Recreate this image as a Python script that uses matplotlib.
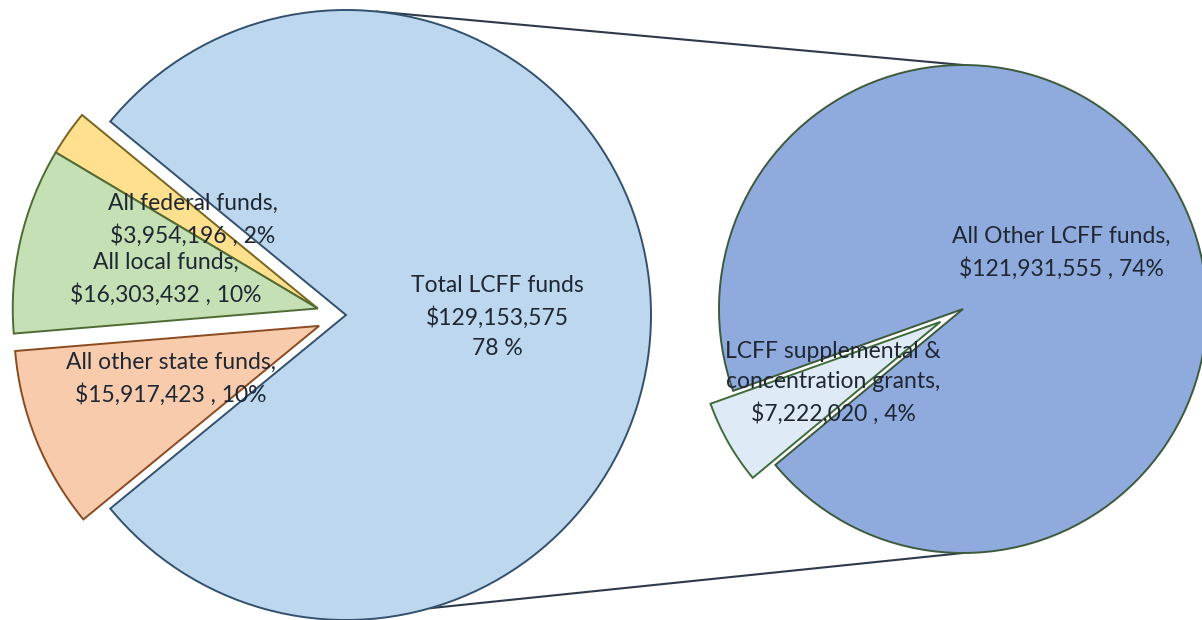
import matplotlib
matplotlib.use("Agg")
import matplotlib.pyplot as plt
import numpy as np

# Funding sources for the district (dollars)
main_labels = ["Total LCFF funds", "All federal funds", "All local funds", "All other state funds"]
main_values = [129153575, 3954196, 16303432, 15917423]
main_pct = [78, 2, 10, 10]

# Breakdown of the LCFF total
lcff_labels = ["LCFF supplemental &\nconcentration grants", "All Other LCFF funds"]
lcff_values = [7222020, 121931555]
lcff_pct = [4, 74]

W, H = 1202, 620
fig = plt.figure(figsize=(W / 100, H / 100), dpi=100)
ax = fig.add_axes([0, 0, 1, 1])

main_colors = ["#BDD7EE", "#FFE08F", "#C5E0B4", "#F8CBAD"]
main_edges = ["#33506E", "#7A6420", "#4E6B34", "#8A4A22"]
lcff_colors = ["#DEEBF7", "#8FAADC"]
lcff_edges = ["#3F6B3A", "#3C5A3C"]

text_color = "#1F2733"
font = "Lato"
fs = 16.5

# Left pie: the LCFF slice faces right, the other sources are pulled out to the left
c1 = (346, H - 315)
r1 = 305
frac_big = main_values[0] / sum(main_values)
w1, _ = ax.pie(main_values, colors=main_colors, center=c1, radius=r1,
               startangle=-frac_big * 180, counterclock=True,
               explode=[0, 29, 29, 29], frame=True,
               wedgeprops=dict(linewidth=1.4))
for w, ec in zip(w1, main_edges):
    w.set_edgecolor(ec)
# federal slice shares the local slice's offset
w1[1].set_center(w1[2].center)

# Right pie: breakdown of LCFF funds
c2 = (963, H - 309)
r2 = 244
w2, _ = ax.pie(lcff_values, colors=lcff_colors, center=c2, radius=r2,
               startangle=199.6, counterclock=True,
               explode=[26, 0], frame=True,
               wedgeprops=dict(linewidth=1.4))
for w, ec in zip(w2, lcff_edges):
    w.set_edgecolor(ec)
w2[0].set_zorder(w2[1].get_zorder() + 1)

# Series lines joining the two pies
for a1, a2 in [(84.3, 90), (-74.0, -90)]:
    p = (c1[0] + r1 * np.cos(np.radians(a1)), c1[1] + r1 * np.sin(np.radians(a1)))
    q = (c2[0] + r2 * np.cos(np.radians(a2)), c2[1] + r2 * np.sin(np.radians(a2)))
    ax.plot([p[0], q[0]], [p[1], q[1]], color="#2D3A4A", lw=1.5, zorder=0.5,
            solid_capstyle="round")

def money(v):
    return "${:,}".format(v)

labels = [
    (f"{main_labels[0]}\n{money(main_values[0])}\n{main_pct[0]} %", (497, 317)),
    (f"{main_labels[1]},\n{money(main_values[1])} , {main_pct[1]}%", (193, 220)),
    (f"{main_labels[2]},\n{money(main_values[2])} , {main_pct[2]}%", (166, 279)),
    (f"{main_labels[3]},\n{money(main_values[3])} , {main_pct[3]}%", (171, 379)),
    (f"{lcff_labels[1]},\n{money(lcff_values[1])} , {lcff_pct[1]}%", (1061, 253)),
    (f"{lcff_labels[0]},\n{money(lcff_values[0])} , {lcff_pct[0]}%", (833, 383)),
]
for s, (x, y) in labels:
    ax.text(x, H - y, s, ha="center", va="center", multialignment="center",
            fontsize=fs, family=font, color=text_color, linespacing=1.55,
            zorder=10)

ax.set_xlim(0, W)
ax.set_ylim(0, H)
ax.set_aspect("equal")
ax.axis("off")
fig.savefig("out.png", dpi=100, facecolor="white")
